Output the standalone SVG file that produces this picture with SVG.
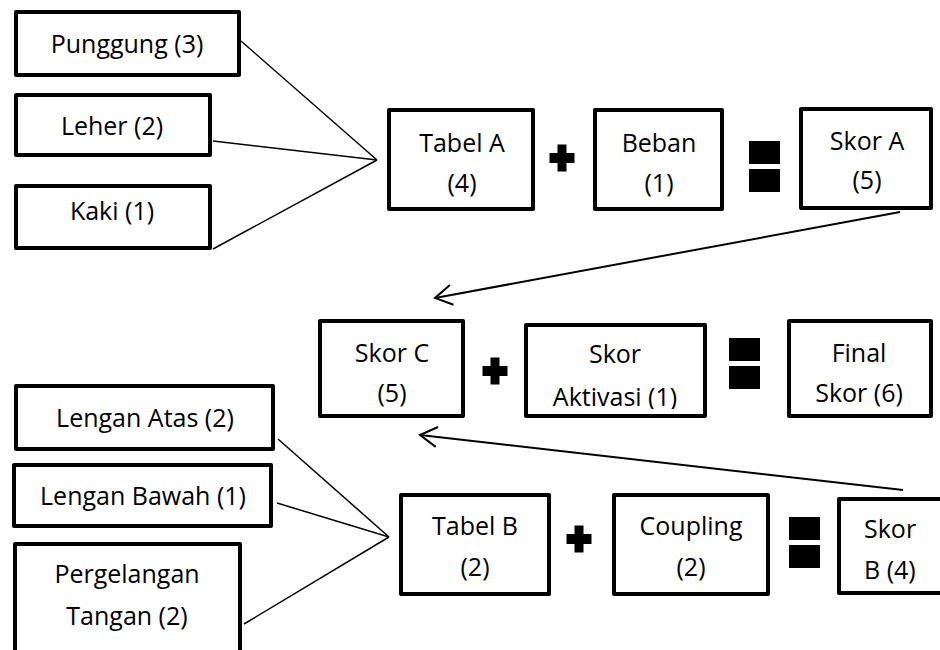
<svg xmlns="http://www.w3.org/2000/svg" width="940" height="650" viewBox="0 0 940 650">
<style>
.box{fill:#fff;stroke:#000;stroke-width:4;stroke-linejoin:round}
.t{font-family:"Open Sans","Noto Sans","Liberation Sans",sans-serif;font-size:25px;fill:#000;text-anchor:middle}
.tl{text-anchor:start}
.c{fill:none;stroke:#000;stroke-width:1.5}
.a{fill:none;stroke:#000;stroke-width:2}
.op{fill:#000}
</style>
<defs>
<marker id="arr" markerUnits="userSpaceOnUse" markerWidth="40" markerHeight="40" refX="0" refY="0" viewBox="-20 -20 40 40" orient="auto" overflow="visible">
<path d="M-17,-10 L0,0 L-17,10" fill="none" stroke="#000" stroke-width="2"/>
</marker>
<path id="plus" d="M-4.5,-13.5 H4.5 V-5 H12.5 V5 H4.5 V13.5 H-4.5 V5 H-12.5 V-5 H-4.5 Z"/>
<g id="eq"><rect x="0" y="0" width="31" height="23"/><rect x="0" y="28" width="31" height="23"/></g>
<clipPath id="clipAkt"><rect x="526" y="325" width="179" height="84"/></clipPath>
</defs>

<g id="connectors">
<line class="c" x1="241" y1="41" x2="377" y2="160"/>
<line class="c" x1="213" y1="141" x2="377" y2="160"/>
<line class="c" x1="213" y1="249" x2="377" y2="160"/>
<line class="c" x1="278" y1="439" x2="389" y2="537"/>
<line class="c" x1="277" y1="503" x2="389" y2="537"/>
<line class="c" x1="244" y1="624" x2="389" y2="537"/>
<line class="a" x1="900" y1="212" x2="435" y2="298" marker-end="url(#arr)"/>
<line class="a" x1="903" y1="490" x2="420" y2="435" marker-end="url(#arr)"/>
</g>

<g id="operators" class="op">
<use href="#plus" x="562" y="158"/>
<use href="#plus" x="495" y="371"/>
<use href="#plus" x="579" y="539"/>
<use href="#eq" x="749" y="141"/>
<use href="#eq" x="729" y="338"/>
<use href="#eq" x="789" y="517"/>
</g>

<g id="punggung"><rect class="box" x="16" y="12" width="223" height="63"/><text class="t" x="127" y="53">Punggung (3)</text></g>
<g id="leher"><rect class="box" x="16" y="95" width="194" height="60"/><text class="t" x="112" y="135">Leher (2)</text></g>
<g id="kaki"><rect class="box" x="16" y="186" width="194" height="62"/><text class="t" x="112" y="220">Kaki (1)</text></g>

<g id="tabelA"><rect class="box" x="389" y="110" width="144" height="99"/><text class="t" x="462" y="152">Tabel A</text><text class="t" x="462" y="192">(4)</text></g>
<g id="beban"><rect class="box" x="595" y="110" width="127" height="99"/><text class="t" x="659" y="152">Beban</text><text class="t" x="659" y="192">(1)</text></g>
<g id="skorA"><rect class="box" x="801" y="109" width="130" height="99"/><text class="t" x="867" y="150">Skor A</text><text class="t" x="867" y="189">(5)</text></g>

<g id="skorC"><rect class="box" x="320" y="321" width="143" height="95"/><text class="t" x="392" y="362">Skor C</text><text class="t" x="392" y="402">(5)</text></g>
<g id="skorAktivasi"><rect class="box" x="526" y="325" width="179" height="91"/><text class="t" x="615" y="363">Skor</text><text class="t" x="615" y="406" clip-path="url(#clipAkt)">Aktivasi (1)</text></g>
<g id="finalSkor"><rect class="box" x="789" y="321" width="142" height="95"/><text class="t" x="859" y="362">Final</text><text class="t" x="859" y="402">Skor (6)</text></g>

<g id="lenganAtas"><rect class="box" x="16" y="386" width="257" height="63"/><text class="t" x="145" y="427">Lengan Atas (2)</text></g>
<g id="lenganBawah"><rect class="box" x="14" y="465" width="257" height="61"/><text class="t" x="143" y="505">Lengan Bawah (1)</text></g>
<g id="pergelangan"><rect class="box" x="15" y="544" width="225" height="120"/><text class="t" x="127" y="583">Pergelangan</text><text class="t" x="127" y="625">Tangan (2)</text></g>

<g id="tabelB"><rect class="box" x="401" y="495" width="148" height="99"/><text class="t" x="475" y="535">Tabel B</text><text class="t" x="475" y="576">(2)</text></g>
<g id="coupling"><rect class="box" x="614" y="495" width="154" height="99"/><text class="t" x="691" y="535">Coupling</text><text class="t" x="691" y="576">(2)</text></g>
<g id="skorB"><rect class="box" x="839" y="499" width="120" height="94"/><text class="t tl" x="864" y="538">Skor</text><text class="t tl" x="864" y="579">B (4)</text></g>
</svg>
